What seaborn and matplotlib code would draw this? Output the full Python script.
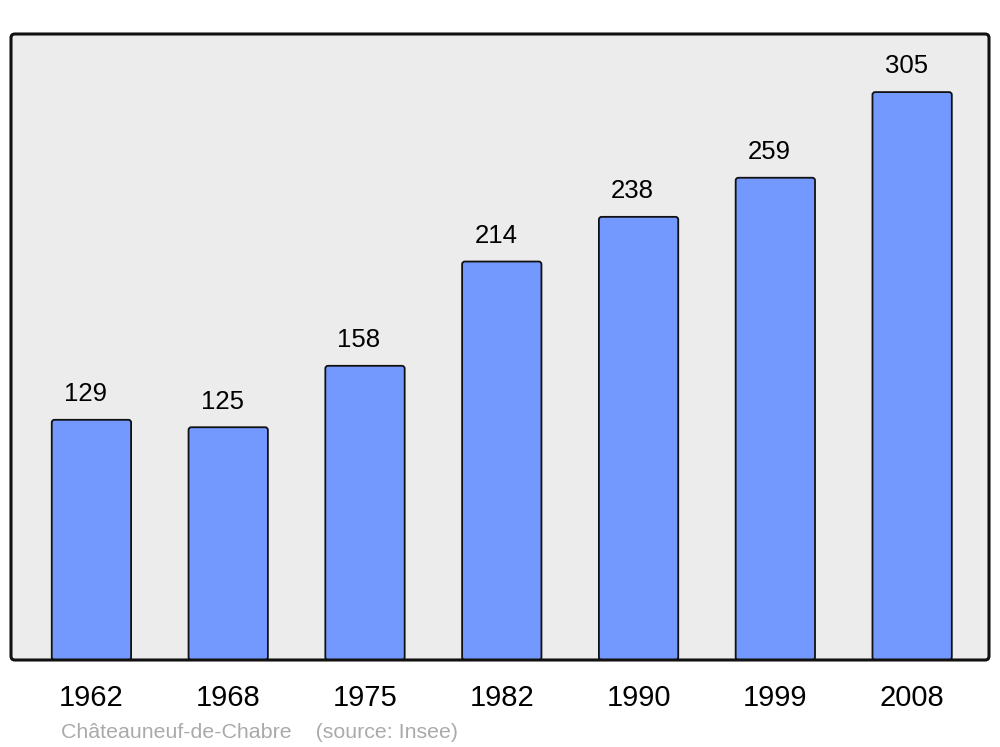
import matplotlib
matplotlib.use("Agg")
import matplotlib.pyplot as plt
from matplotlib.patches import FancyBboxPatch
import seaborn as sns
import pandas as pd

years = ["1962", "1968", "1975", "1982", "1990", "1999", "2008"]
population = [129, 125, 158, 214, 238, 259, 305]
caption = "Châteauneuf-de-Chabre    (source: Insee)"

sns.set_style("white")
plt.rcParams["font.family"] = ["Liberation Sans", "DejaVu Sans"]

df = pd.DataFrame({"year": years, "pop": population})

fig = plt.figure(figsize=(10, 7.47), dpi=100)
ax = fig.add_axes([0.011, 87 / 747, 0.978, 626 / 747])
ax.set_facecolor("#ECECEC")

sns.barplot(data=df, x="year", y="pop", color="#7399FF", saturation=1,
            width=0.58, edgecolor="#111111", linewidth=1.3, ax=ax)

ax.set_ylim(0, 336.2)
ax.set_xlim(-0.588, 6.562)

# rounded bar corners, derived from the seaborn bars
for p in list(ax.patches):
    x, y, w, h = p.get_x(), p.get_y(), p.get_width(), p.get_height()
    fb = FancyBboxPatch((x, y), w, h,
                        boxstyle="round,pad=0,rounding_size=0.02",
                        mutation_aspect=75, facecolor=p.get_facecolor(),
                        edgecolor="#111111", linewidth=1.3, zorder=p.get_zorder())
    p.remove()
    ax.add_patch(fb)

ax.set_xlabel("")
ax.set_ylabel("")
ax.set_yticks([])
ax.tick_params(axis="x", length=0, pad=17, labelsize=21, labelcolor="black")

for i, v in enumerate(population):
    ax.annotate(str(v), (i, v), xytext=(-4.3, 13.5), textcoords="offset points",
                ha="center", va="baseline", fontsize=18.5, color="black")

for s in ax.spines.values():
    s.set_visible(False)
frame = FancyBboxPatch((0, 0), 1, 1, boxstyle="round,pad=0,rounding_size=0.004",
                       mutation_aspect=978 / 626, transform=ax.transAxes,
                       facecolor="none", edgecolor="#111111", linewidth=2.2,
                       clip_on=False, zorder=10)
ax.add_patch(frame)

fig.text(0.061, 1 - 738 / 747, caption, fontsize=15.4, color="#AAAAAA",
         ha="left", va="baseline")

fig.savefig("out.png", dpi=100, facecolor="white")
